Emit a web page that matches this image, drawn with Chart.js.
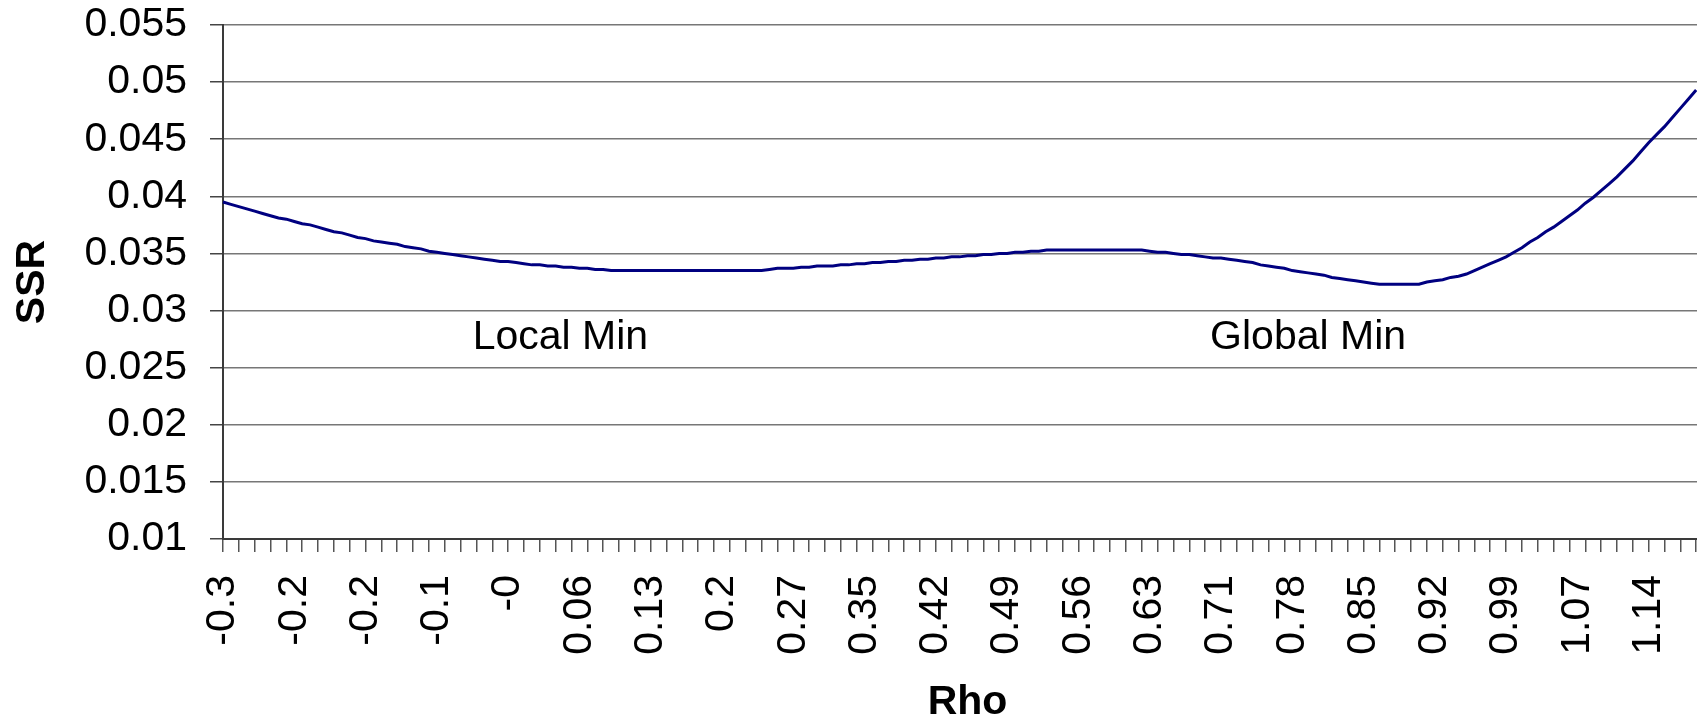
<!DOCTYPE html>
<html>
<head>
<meta charset="utf-8">
<script src="https://cdn.jsdelivr.net/npm/chart.js@4/dist/chart.umd.min.js"></script>
<style>
  html, body { margin: 0; padding: 0; background: #fff; overflow: hidden; }
  #wrap { width: 1697px; height: 725px; overflow: hidden; position: relative; }
  canvas { display: block; }
</style>
</head>
<body>
<div id="wrap"><canvas id="c" width="1712" height="725"></canvas></div>
<script>
// Tick labels shown every 9th category (Rho values as printed on the axis)
const tickLabels = ['-0.3', '-0.2', '-0.2', '-0.1', '-0', '0.06', '0.13', '0.2', '0.27', '0.35',
  '0.42', '0.49', '0.56', '0.63', '0.71', '0.78', '0.85', '0.92', '0.99', '1.07', '1.14'];

// SSR value at each Rho category
const ssr = [
  0.0395, 0.0393, 0.0391, 0.0389, 0.0387, 0.0385, 0.0383, 0.0381, 0.0380, 0.0378,
  0.0376, 0.0375, 0.0373, 0.0371, 0.0369, 0.0368, 0.0366, 0.0364, 0.0363, 0.0361,
  0.0360, 0.0359, 0.0358, 0.0356, 0.0355, 0.0354, 0.0352, 0.0351, 0.0350, 0.0349,
  0.0348, 0.0347, 0.0346, 0.0345, 0.0344, 0.0343, 0.0343, 0.0342, 0.0341, 0.0340,
  0.0340, 0.0339, 0.0339, 0.0338, 0.0338, 0.0337, 0.0337, 0.0336, 0.0336, 0.0335,
  0.0335, 0.0335, 0.0335, 0.0335, 0.0335, 0.0335, 0.0335, 0.0335, 0.0335, 0.0335,
  0.0335, 0.0335, 0.0335, 0.0335, 0.0335, 0.0335, 0.0335, 0.0335, 0.0335, 0.0336,
  0.0337, 0.0337, 0.0337, 0.0338, 0.0338, 0.0339, 0.0339, 0.0339, 0.0340, 0.0340,
  0.0341, 0.0341, 0.0342, 0.0342, 0.0343, 0.0343, 0.0344, 0.0344, 0.0345, 0.0345,
  0.0346, 0.0346, 0.0347, 0.0347, 0.0348, 0.0348, 0.0349, 0.0349, 0.0350, 0.0350,
  0.0351, 0.0351, 0.0352, 0.0352, 0.0353, 0.0353, 0.0353, 0.0353, 0.0353, 0.0353,
  0.0353, 0.0353, 0.0353, 0.0353, 0.0353, 0.0353, 0.0353, 0.0352, 0.0351, 0.0351,
  0.0350, 0.0349, 0.0349, 0.0348, 0.0347, 0.0346, 0.0346, 0.0345, 0.0344, 0.0343,
  0.0342, 0.0340, 0.0339, 0.0338, 0.0337, 0.0335, 0.0334, 0.0333, 0.0332, 0.0331,
  0.0329, 0.0328, 0.0327, 0.0326, 0.0325, 0.0324, 0.0323, 0.0323, 0.0323, 0.0323,
  0.0323, 0.0323, 0.0325, 0.0326, 0.0327, 0.0329, 0.0330, 0.0332, 0.0335, 0.0338,
  0.0341, 0.0344, 0.0347, 0.0351, 0.0355, 0.0360, 0.0364, 0.0369, 0.0373, 0.0378,
  0.0383, 0.0388, 0.0394, 0.0399, 0.0405, 0.0411, 0.0417, 0.0424, 0.0431, 0.0439,
  0.0447, 0.0454, 0.0461, 0.0469, 0.0477, 0.0485, 0.0493
];

// Category slots along the Rho axis (the axis runs two slots past the visible edge)
const categoryCount = 189;
const labelEvery = 9;
const tickMarkEvery = 2;

// Text notes placed in data coordinates: [text, category position, SSR value of baseline]
const noteTexts = ['Local Min', 'Global Min'];
const noteAt = [42.6, 137.0];
const noteValue = [0.0266, 0.0266];

const categories = Array.from({ length: categoryCount }, (_, i) => String(i));

const FONT = "'Liberation Sans', Arial, sans-serif";

const notesPlugin = {
  id: 'notes',
  afterDatasetsDraw(chart) {
    const { ctx, scales: { x, y } } = chart;
    ctx.save();
    ctx.font = '41px ' + FONT;
    ctx.fillStyle = '#000';
    ctx.textAlign = 'center';
    ctx.textBaseline = 'alphabetic';
    noteTexts.forEach((t, i) => {
      ctx.fillText(t, x.getPixelForValue(noteAt[i]), y.getPixelForValue(noteValue[i]));
    });
    ctx.restore();
  }
};

new Chart(document.getElementById('c'), {
  type: 'line',
  data: {
    labels: categories,
    datasets: [{
      data: ssr,
      borderColor: '#000080',
      borderWidth: 3,
      pointRadius: 0,
      tension: 0,
      fill: false
    }]
  },
  options: {
    responsive: false,
    animation: false,
    devicePixelRatio: 1,
    layout: { padding: { top: 0, right: 0, bottom: 0, left: 0 } },
    plugins: { legend: { display: false }, tooltip: { enabled: false } },
    scales: {
      x: {
        type: 'category',
        offset: false,
        afterFit(scale) {
          scale.height = 186;
          scale.paddingLeft = 0;
          scale.paddingRight = 0;
        },
        border: { display: true, color: '#3a3a3a', width: 2 },
        grid: {
          drawOnChartArea: false,
          drawTicks: true,
          tickLength: 13,
          lineWidth: 1.5,
          color: (ctx) => (ctx.index % tickMarkEvery === 0 ? '#555' : 'rgba(0,0,0,0)')
        },
        ticks: {
          autoSkip: false,
          minRotation: 90,
          maxRotation: 90,
          padding: 23,
          color: '#000',
          font: { family: FONT, size: 41 },
          callback: (v, i) => (i % labelEvery === 0 && tickLabels[i / labelEvery] !== undefined ? tickLabels[i / labelEvery] : '')
        },
        title: {
          display: true,
          text: 'Rho',
          color: '#000',
          font: { family: FONT, size: 41, weight: 'bold', lineHeight: 1 },
          padding: { top: 0, bottom: 2 }
        }
      },
      y: {
        min: 0.01,
        max: 0.055,
        afterFit(scale) {
          scale.width = 223;
          scale.paddingTop = 25;
        },
        border: { display: true, color: '#3a3a3a', width: 2 },
        grid: {
          drawOnChartArea: true,
          drawTicks: true,
          tickLength: 13,
          lineWidth: 1.5,
          color: '#777',
          tickColor: '#444'
        },
        ticks: {
          stepSize: 0.005,
          padding: 23,
          color: '#000',
          font: { family: FONT, size: 41 },
          callback: (v) => String(Number(v.toFixed(3)))
        },
        title: {
          display: true,
          text: 'SSR',
          color: '#000',
          font: { family: FONT, size: 41, weight: 'bold', lineHeight: 1 },
          padding: { top: 12, bottom: 0 }
        }
      }
    }
  },
  plugins: [notesPlugin]
});
</script>
</body>
</html>
